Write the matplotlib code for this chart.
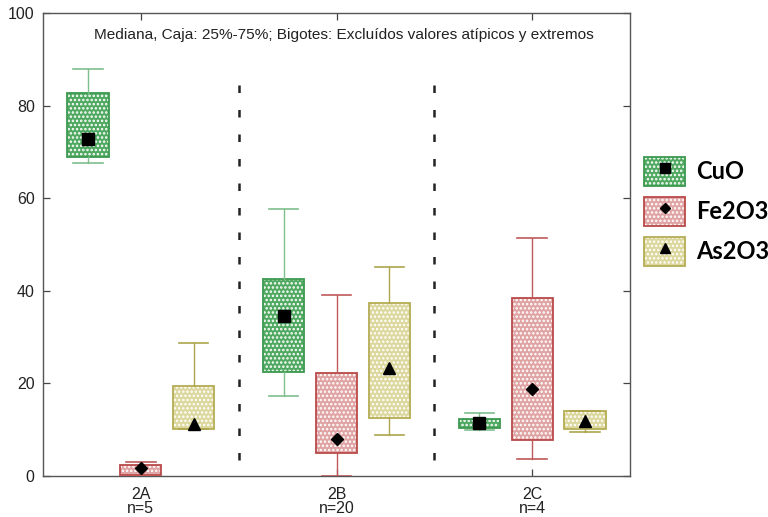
import matplotlib
matplotlib.use("Agg")
import matplotlib.pyplot as plt
from matplotlib.patches import Patch
from matplotlib.lines import Line2D

# Groups and sample sizes
groups = ["2A", "2B", "2C"]
n_labels = ["n=5", "n=20", "n=4"]

# Box statistics per oxide: whisker low, Q1, median, Q3, whisker high
cuo_low = [67.7, 17.3, 9.9]
cuo_q1 = [68.8, 22.4, 10.4]
cuo_med = [72.8, 34.6, 11.4]
cuo_q3 = [82.8, 42.5, 12.3]
cuo_high = [87.8, 57.6, 13.5]

fe_low = [0.0, 0.0, 3.6]
fe_q1 = [0.2, 5.0, 7.8]
fe_med = [1.7, 7.9, 18.7]
fe_q3 = [2.4, 22.2, 38.5]
fe_high = [3.1, 39.0, 51.3]

as_low = [10.2, 8.9, 9.6]
as_q1 = [10.2, 12.5, 10.2]
as_med = [11.2, 23.3, 11.9]
as_q3 = [19.4, 37.4, 14.0]
as_high = [28.7, 45.1, 14.1]

series_names = ["CuO", "Fe2O3", "As2O3"]

plt.rcParams["font.family"] = ["Liberation Sans", "DejaVu Sans"]
plt.rcParams["hatch.linewidth"] = 1.2

fig = plt.figure(figsize=(7.68, 5.17), dpi=100)
ax = fig.add_axes([43 / 768, 41 / 517, 587 / 768, 463 / 517])

series = [
    dict(low=cuo_low, q1=cuo_q1, med=cuo_med, q3=cuo_q3, high=cuo_high,
         face="#4ea860", edge="#3d9a50", whisk="#7fbf8c", marker="s", ms=8.5),
    dict(low=fe_low, q1=fe_q1, med=fe_med, q3=fe_q3, high=fe_high,
         face="#e0a3a3", edge="#b94a4a", whisk="#c05a5a", marker="D", ms=6.5),
    dict(low=as_low, q1=as_q1, med=as_med, q3=as_q3, high=as_high,
         face="#dcd79c", edge="#b5ad55", whisk="#ada64e", marker="^", ms=8.5),
]

offsets = [-0.27, 0.0, 0.27]
box_w = 0.21
cap_w = 0.15

for s, off in zip(series, offsets):
    stats = []
    for i in range(len(groups)):
        stats.append(dict(whislo=s["low"][i], q1=s["q1"][i], med=s["med"][i],
                          q3=s["q3"][i], whishi=s["high"][i], fliers=[]))
    pos = [i + 1 + off for i in range(len(groups))]
    # filled, dotted body
    ax.bxp(stats, positions=pos, widths=box_w, patch_artist=True,
           showcaps=False, showfliers=False,
           boxprops=dict(facecolor=s["face"], edgecolor="white", hatch="....",
                         linewidth=0),
           whiskerprops=dict(linewidth=0), medianprops=dict(linewidth=0),
           manage_ticks=False, zorder=2)
    # outline, whiskers and caps
    ax.bxp(stats, positions=pos, widths=box_w, patch_artist=True,
           showfliers=False, capwidths=cap_w,
           boxprops=dict(facecolor="none", edgecolor=s["edge"], linewidth=1.3),
           whiskerprops=dict(color=s["whisk"], linewidth=1.0),
           capprops=dict(color=s["whisk"], linewidth=1.2),
           medianprops=dict(linewidth=0),
           manage_ticks=False, zorder=3)
    ax.plot(pos, s["med"], linestyle="none", marker=s["marker"],
            markersize=s["ms"], color="black", zorder=4)

# group separators
for xs in (1.5, 2.5):
    ax.plot([xs, xs], [84.5, 0], color="#222222", linewidth=1.8,
            linestyle=(0, (3.0, 6.8)), zorder=1)

ax.set_xlim(0.5, 3.5)
ax.set_ylim(0, 100)
ax.set_xticks([1, 2, 3])
ax.set_xticklabels([f"{g}\n{n}" for g, n in zip(groups, n_labels)],
                   fontsize=11.5, linespacing=0.9)
ax.set_yticks([0, 20, 40, 60, 80, 100])
ax.tick_params(axis="both", direction="in", length=5, width=0.9,
               color="#444444", top=True, right=True, labelsize=11.5,
               labelcolor="#222222")
ax.tick_params(axis="y", pad=6)
ax.tick_params(axis="x", pad=8)
for sp in ax.spines.values():
    sp.set_color("#555555")
    sp.set_linewidth(1.0)

ax.text(0.513, 0.952,
        "Mediana, Caja: 25%-75%; Bigotes: Excluídos valores atípicos y extremos",
        transform=ax.transAxes, ha="center", va="center", fontsize=11.1,
        color="#222222")

# legend
handles = []
for s in series:
    body = Patch(facecolor=s["face"], edgecolor="white", hatch="....",
                 linewidth=0)
    frame = Patch(facecolor="none", edgecolor=s["edge"], linewidth=1.3)
    mk = Line2D([], [], linestyle="none", marker=s["marker"],
                markersize=s["ms"] * 0.85, color="black")
    handles.append((body, frame, mk))
fig.legend(handles, series_names, loc="upper left",
           bbox_to_anchor=(644 / 768, 1 - 157 / 517), frameon=False,
           prop=dict(family=["Lato", "DejaVu Sans"], size=17, weight="bold"),
           handlelength=1.75, handleheight=1.5, handletextpad=0.45,
           labelspacing=0.47, borderpad=0.0, borderaxespad=0.0)

fig.savefig("out.png", dpi=100)
